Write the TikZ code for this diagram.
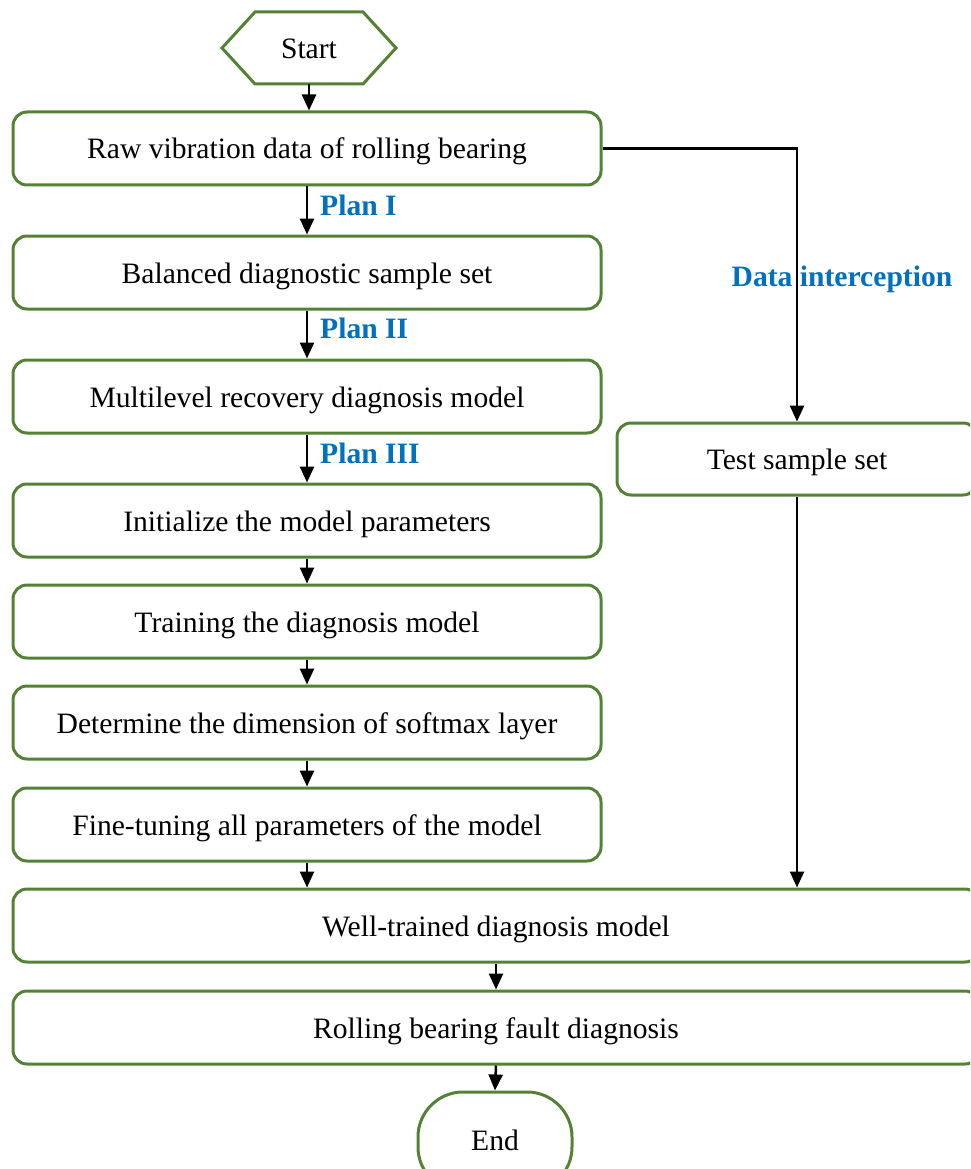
\documentclass[tikz,border=0pt]{standalone}
\usepackage{fontspec}
\setmainfont{Liberation Serif}
\usetikzlibrary{arrows.meta}
\definecolor{boxgreen}{RGB}{84,130,53}
\definecolor{planblue}{RGB}{0,112,192}
\newcommand{\bigfont}{\fontsize{29.6}{34}\selectfont}
\tikzset{
  box/.style={draw=boxgreen, line width=3pt, rounded corners=14pt, fill=none,
    minimum width=588pt, minimum height=73pt, inner sep=0pt, align=center,
    text height=21pt, text depth=0pt},
  widebox/.style={box, minimum width=966pt},
  arr/.style={line width=2.5pt, -{Triangle[length=16pt,width=14pt]}},
  plan/.style={text=planblue, font=\bigfont\bfseries, anchor=west, inner sep=0pt},
}
\begin{document}
\begin{tikzpicture}[x=1pt,y=-1pt, font=\bigfont]
\useasboundingbox (0,0) rectangle (970,1169);
\clip (0,0) rectangle (970,1169);

% Start hexagon
\node[text height=21pt, text depth=0pt, inner sep=0pt] (start) at (309,48) {Start};
\draw[draw=boxgreen, line width=3pt] (222,48) -- (255,12) -- (363,12) -- (396,48) -- (363,84) -- (255,84) -- cycle;
\coordinate (startbot) at (309,84);

% main column
\node[box] (b1) at (307,148.5) {Raw vibration data of rolling bearing};
\node[box] (b2) at (307,272.5) {Balanced diagnostic sample set};
\node[box] (b3) at (307,396.5) {Multilevel recovery diagnosis model};
\node[box] (b4) at (307,520.5) {Initialize the model parameters};
\node[box] (b5) at (307,621.5) {Training the diagnosis model};
\node[box] (b6) at (307,722.5) {Determine the dimension of softmax layer};
\node[box] (b7) at (307,824.5) {Fine-tuning all parameters of the model};
\node[widebox] (b8) at (496,925.5) {Well-trained diagnosis model};
\node[widebox] (b9) at (496,1027.5) {Rolling bearing fault diagnosis};
\node[draw=boxgreen, line width=3pt, rounded corners=45pt, minimum width=154pt, minimum height=100pt, inner sep=0pt] (end) at (495,1142) {};
\node[text height=21pt, text depth=0pt, inner sep=0pt] (endtxt) at (495,1140) {End};

% right branch
\node[box, minimum width=360pt, minimum height=72pt] (test) at (797,459) {Test sample set};

% connectors
\draw[arr] (startbot) -- (startbot |- b1.north);
\draw[arr] (b1.south) -- (b2.north);
\draw[arr] (b2.south) -- (b3.north);
\draw[arr] (b3.south) -- (b4.north);
\draw[arr] (b4.south) -- (b5.north);
\draw[arr] (b5.south) -- (b6.north);
\draw[arr] (b6.south) -- (b7.north);
\draw[arr] (b7.south) -- (b7.south |- b8.north);
\draw[arr] (b8.south) -- (b9.north);
\draw[arr] (b9.south) -- (end.north);
\draw[arr] (b1.east) -| (test.north);
\draw[arr] (test.south) -- (test.south |- b8.north);

% labels
\node[plan] (p1) at (320,205) {Plan I};
\node[plan] (p2) at (320,328) {Plan II};
\node[plan] (p3) at (320,453) {Plan III};
\node[text=planblue, font=\bigfont\bfseries, inner sep=0pt] (di) at (842,279) {Data interception};
\end{tikzpicture}
\end{document}
